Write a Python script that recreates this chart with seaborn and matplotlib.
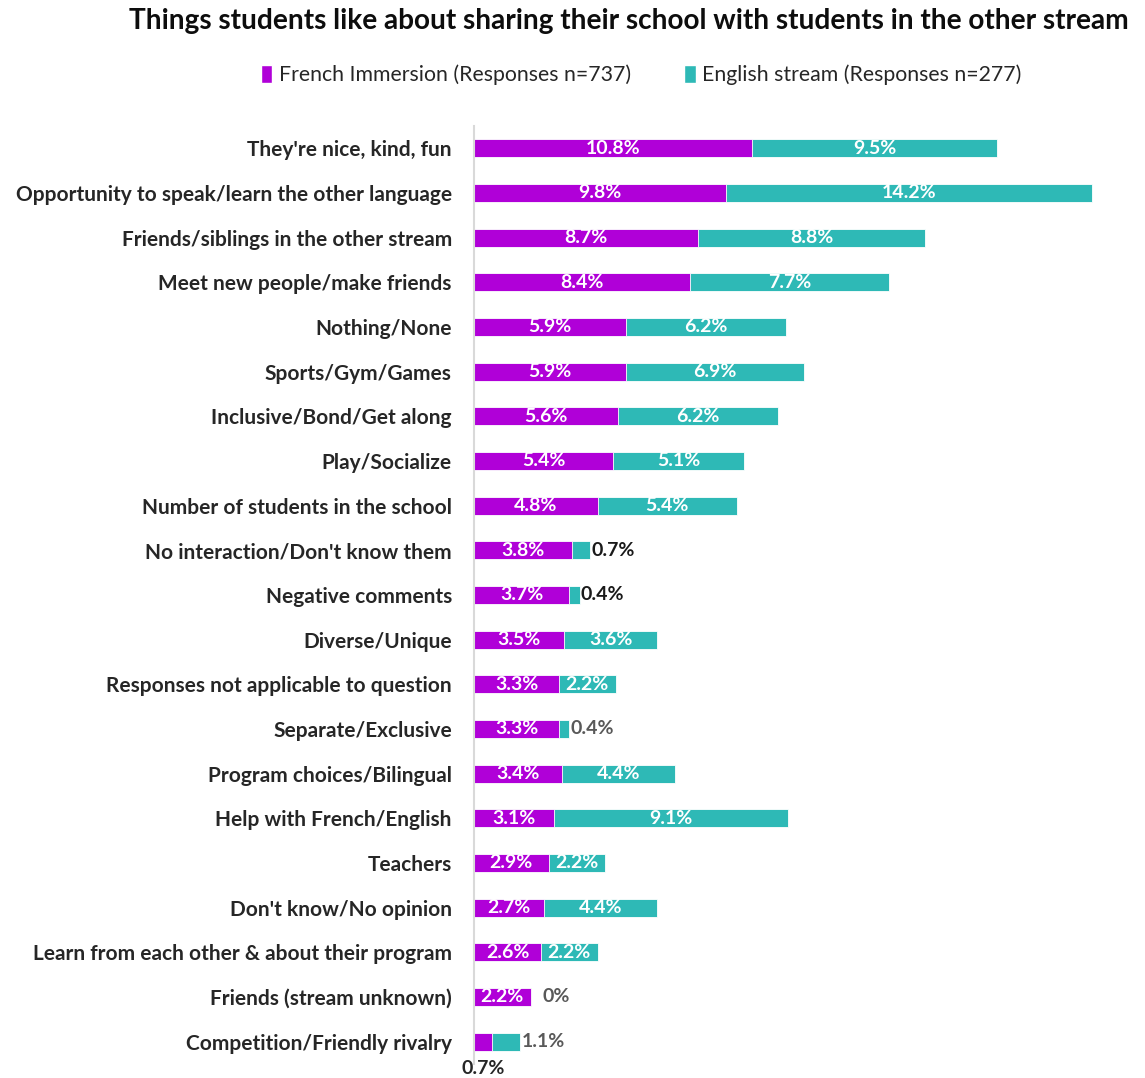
import matplotlib
matplotlib.use("Agg")
import matplotlib.pyplot as plt
import seaborn as sns
import pandas as pd
from matplotlib.patches import Patch

categories = [
    "They're nice, kind, fun",
    "Opportunity to speak/learn the other language",
    "Friends/siblings in the other stream",
    "Meet new people/make friends",
    "Nothing/None",
    "Sports/Gym/Games",
    "Inclusive/Bond/Get along",
    "Play/Socialize",
    "Number of students in the school",
    "No interaction/Don't know them",
    "Negative comments",
    "Diverse/Unique",
    "Responses not applicable to question",
    "Separate/Exclusive",
    "Program choices/Bilingual",
    "Help with French/English",
    "Teachers",
    "Don't know/No opinion",
    "Learn from each other & about their program",
    "Friends (stream unknown)",
    "Competition/Friendly rivalry",
]
french_immersion = [10.8, 9.8, 8.7, 8.4, 5.9, 5.9, 5.6, 5.4, 4.8, 3.8, 3.7, 3.5, 3.3, 3.3, 3.4, 3.1, 2.9, 2.7, 2.6, 2.2, 0.7]
english_stream = [9.5, 14.2, 8.8, 7.7, 6.2, 6.9, 6.2, 5.1, 5.4, 0.7, 0.4, 3.6, 2.2, 0.4, 4.4, 9.1, 2.2, 4.4, 2.2, 0.0, 1.1]
legend_labels = ["French Immersion (Responses n=737)", "English stream (Responses n=277)"]
title = "Things students like about sharing their school with students in the other stream"

PURPLE = "#B000D8"
TEAL = "#2EB9B6"

sns.set_theme(style="white")
FONT = ["Lato", "DejaVu Sans"]
plt.rcParams["font.family"] = FONT

df = pd.DataFrame({"cat": categories, "fi": french_immersion, "en": english_stream})
df["total"] = df["fi"] + df["en"]

fig = plt.figure(figsize=(11.45, 10.78), dpi=100)
ax = fig.add_axes([474 / 1145, 1 - 1064 / 1078, (1100 - 474) / 1145, (1064 - 126) / 1078])

sns.barplot(data=df, y="cat", x="total", color=TEAL, orient="h", width=0.41,
            saturation=1, ax=ax, edgecolor="white", linewidth=0.6)
sns.barplot(data=df, y="cat", x="fi", color=PURPLE, orient="h", width=0.41,
            saturation=1, ax=ax, edgecolor="white", linewidth=0.6)

ax.set_xlim(0, 24.3)
ax.set_xlabel("")
ax.set_ylabel("")
ax.set_xticks([])
for s in ["top", "right", "bottom"]:
    ax.spines[s].set_visible(False)
ax.spines["left"].set_color("#D9D9D9")
ax.spines["left"].set_linewidth(1.5)
ax.tick_params(axis="y", length=0, pad=16)
for lab in ax.get_yticklabels():
    lab.set_fontsize(15)
    lab.set_color("#262626")
    lab.set_fontweight("bold")

VFS = 14
for i, (fi, en) in enumerate(zip(french_immersion, english_stream)):
    tot = fi + en
    if fi >= 1.5:
        ax.text(fi / 2, i, f"{fi}%", ha="center", va="center", color="white",
                fontsize=VFS, fontweight="bold")
    else:
        ax.text(fi / 2, i + 0.6, f"{fi}%", ha="center", va="center", color="#262626",
                fontsize=VFS, fontweight="bold", clip_on=False)
    if en >= 1.5:
        ax.text(fi + en / 2, i, f"{en}%", ha="center", va="center", color="white",
                fontsize=VFS, fontweight="bold")
    else:
        if en == 0:
            txt = "0%"
            x = tot + 0.45
        else:
            txt = f"{en}%"
            x = tot + 0.05
        col = "#1a1a1a" if i in (9, 10) else "#595959"
        ax.text(x, i, txt, ha="left", va="center", color=col, fontsize=VFS, fontweight="bold")

fig.text(629 / 1145, 1 - 21 / 1078, title, ha="center", va="center",
         fontsize=20.2, fontweight="bold", color="#0d0d0d")

handles = [Patch(facecolor=PURPLE), Patch(facecolor=TEAL)]
fig.legend(handles, legend_labels, loc="center", bbox_to_anchor=(641 / 1145, 1 - 75 / 1078),
           ncol=2, frameon=False, fontsize=15.3, handlelength=0.55, handleheight=0.9,
           handletextpad=0.3, columnspacing=2.5, labelcolor="#262626")

fig.savefig("out.png", dpi=100)
